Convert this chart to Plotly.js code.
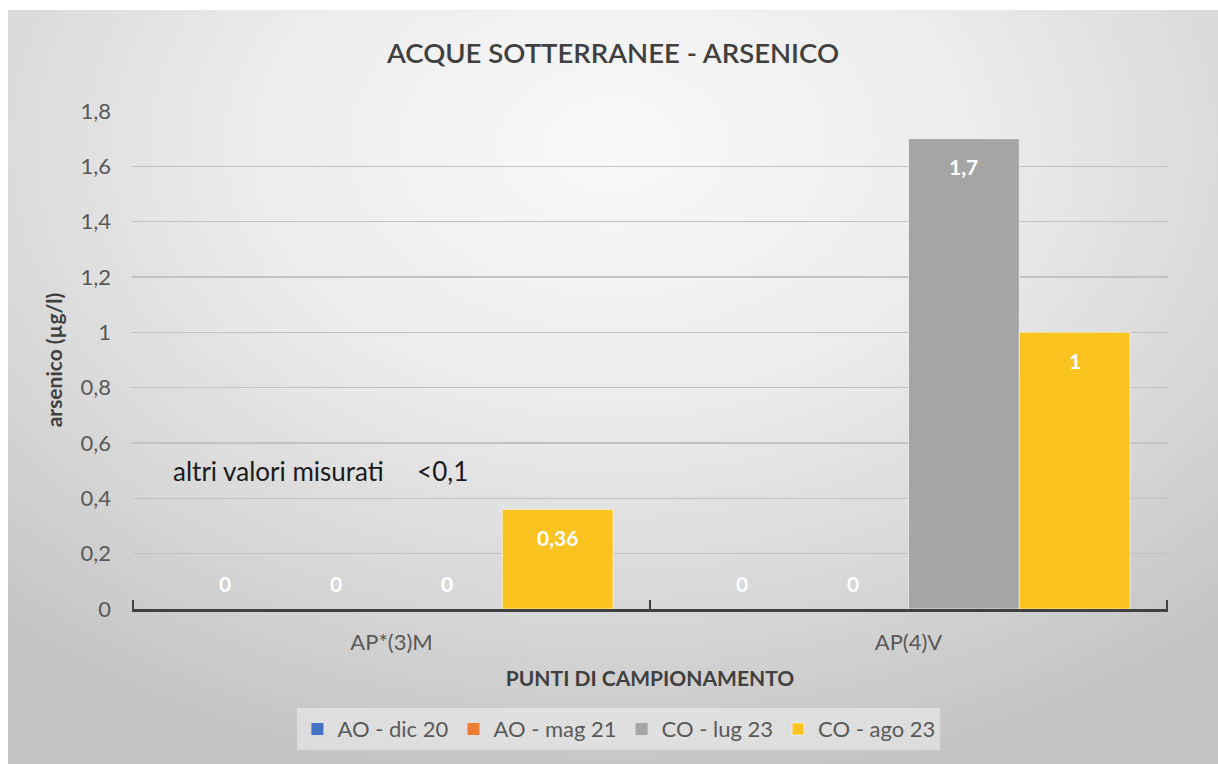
<!DOCTYPE html>
<html>
<head>
<meta charset="utf-8">
<script src="https://cdn.plot.ly/plotly-3.0.1.min.js"></script>
<style>
  html, body { margin: 0; padding: 0; background: #ffffff; }
  #wrap { position: absolute; left: 8px; top: 10px; width: 1210px; height: 754px;
    background: radial-gradient(ellipse 75% 85% at 50% 18%, #f9f9f9 0%, #ececec 40%, #d6d6d6 75%, #c4c4c4 100%); }
  #chart { width: 1210px; height: 754px; }
</style>
</head>
<body>
<div id="wrap"><div id="chart"></div></div>
<script>
// ---- data ----
const categories = ['AP*(3)M', 'AP(4)V'];
const seriesNames = ['AO - dic 20', 'AO - mag 21', 'CO - lug 23', 'CO - ago 23'];
const aoDic20 = [0, 0];
const aoMag21 = [0, 0];
const coLug23 = [0, 1.7];
const coAgo23 = [0.36, 1];
const yTickVals = [0, 0.2, 0.4, 0.6, 0.8, 1, 1.2, 1.4, 1.6, 1.8];
const noteText = 'altri valori misurati\u00a0\u00a0\u00a0\u00a0\u00a0<0,1';

const seriesValues = [aoDic20, aoMag21, coLug23, coAgo23];
const seriesColors = ['#4472C4', '#ED7D31', '#A5A5A5', '#FBC31F'];
const FONT = 'Lato, "Open Sans", sans-serif';
const bargap = 0.143;

const traces = seriesValues.map((vals, i) => ({
  type: 'bar',
  name: seriesNames[i],
  x: categories,
  y: vals,
  marker: { color: seriesColors[i], line: { color: 'rgba(255,255,255,0.6)', width: vals.map(v => v > 0 ? 1 : 0) } },
  hoverinfo: 'skip'
}));

const fmt = v => String(v).replace('.', ',');
const nS = seriesValues.length;
const bw = (1 - bargap) / nS;
const annotations = [];
seriesValues.forEach((vals, i) => {
  vals.forEach((v, j) => {
    annotations.push({
      xref: 'x', yref: 'y',
      x: j + (i - (nS - 1) / 2) * bw,
      y: v,
      text: '<b>' + fmt(v) + '</b>',
      showarrow: false,
      yshift: v > 0 ? -28 : 26,
      font: { family: FONT, size: 21, color: '#ffffff' }
    });
  });
});
annotations.push({
  xref: 'paper', yref: 'y', x: 0.038, y: 0.5, xanchor: 'left', yanchor: 'middle',
  text: noteText, showarrow: false,
  font: { family: FONT, size: 26, color: '#1a1a1a' }
});

const shapes = [];
for (let k = 0; k <= categories.length; k++) {
  shapes.push({
    type: 'line', xref: 'x', yref: 'y', ysizemode: 'pixel', yanchor: 0,
    x0: k - 0.5, x1: k - 0.5, y0: -9, y1: 9,
    line: { color: '#404040', width: 2 }
  });
}

const layout = {
  width: 1210, height: 754,
  margin: { l: 124, r: 50, t: 101, b: 155 },
  paper_bgcolor: 'rgba(0,0,0,0)',
  plot_bgcolor: 'rgba(0,0,0,0)',
  separators: ',.',
  font: { family: FONT, color: '#595959' },
  barmode: 'group',
  bargap: bargap,
  bargroupgap: 0,
  title: {
    text: 'ACQUE SOTTERRANEE - ARSENICO',
    font: { family: FONT, size: 27.5, color: '#404040', weight: 600 },
    x: 0.5, xref: 'container', xanchor: 'center',
    y: 1 - 43 / 754, yref: 'container', yanchor: 'middle'
  },
  xaxis: {
    type: 'category',
    showline: true, linecolor: '#404040', linewidth: 3,
    showgrid: false, ticks: '', ticklabelstandoff: 12,
    tickfont: { family: FONT, size: 22, color: '#595959' },
    title: { text: '<b>PUNTI DI CAMPIONAMENTO</b>', standoff: 17,
      font: { family: FONT, size: 21, color: '#404040' } }
  },
  yaxis: {
    range: [0, 1.8],
    tickvals: yTickVals,
    showgrid: true, gridcolor: '#c2c2c2', gridwidth: 1.5,
    zeroline: false, showline: false, ticks: '',
    ticklabelstandoff: 20,
    tickfont: { family: FONT, size: 22, color: '#595959' },
    title: { text: '<b>arsenico (µg/l)</b>', standoff: 12,
      font: { family: FONT, size: 21, color: '#404040' } }
  },
  legend: {
    orientation: 'h', x: 0.47, xanchor: 'center', y: -0.199, yanchor: 'top',
    bgcolor: 'rgba(240,240,240,0.55)',
    font: { family: FONT, size: 22, color: '#595959' },
    itemclick: false, itemdoubleclick: false
  },
  showlegend: true,
  annotations: annotations,
  shapes: shapes
};

Plotly.newPlot('chart', traces, layout, { displayModeBar: false, staticPlot: true });
</script>
</body>
</html>
